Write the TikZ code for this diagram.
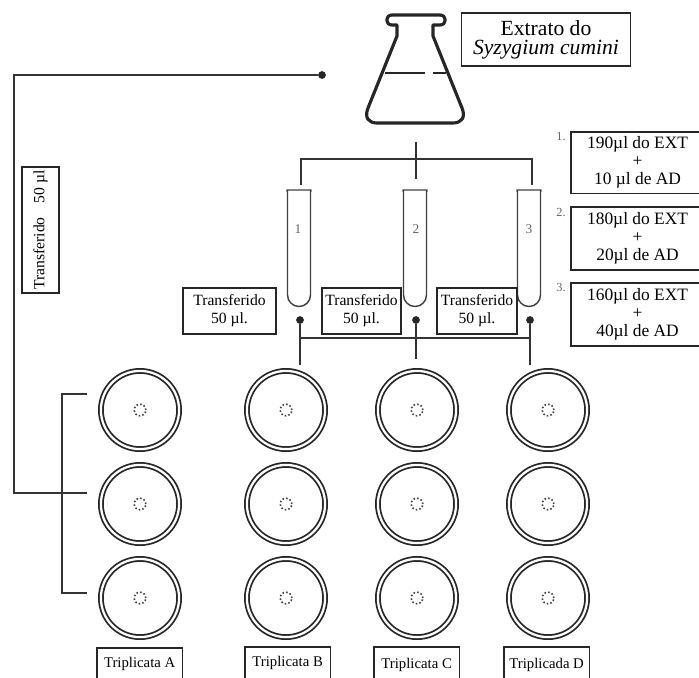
\documentclass[tikz,border=0pt]{standalone}
\usepackage{fontspec}
\setmainfont{Liberation Serif}
\usetikzlibrary{positioning,calc}

\tikzset{
  ln/.style={line width=1.1pt,black!80},
  txtbox/.style={draw=black!85,line width=0.9pt,inner sep=0,align=center,font=\fontsize{8.9}{10.2}\selectfont},
  compbox/.style={txtbox,anchor=north west,minimum width=76pt,font=\fontsize{9.9}{10.2}\selectfont},
  smallbox/.style={txtbox,anchor=north west,minimum width=48.8pt,font=\fontsize{8.4}{9}\selectfont},
  dot/.style={circle,fill=black!85,inner sep=0,minimum size=4.4pt},
  numlabel/.style={text=black!60,inner sep=0,font=\fontsize{7}{8}\selectfont},
  plate/.style={circle,draw=black!85,double=white,line width=1pt,double distance=1.3pt,inner sep=0,minimum size=44.5pt},
  hole/.style={circle,draw=black!75,dash pattern=on 0.9pt off 1.2pt,line width=0.9pt,inner sep=0,minimum size=6.6pt}
}

\newcommand{\tube}[3]{%
  \draw[line width=0.8pt,black!75] (#1-12,190) -- (#1+12,190) -- (#1+12,191) -- (#1+11.5,191)
    -- (#1+11.5,295) arc[start angle=0,end angle=180,radius=11.5] -- (#1-11.5,191) -- (#1-12,191) -- cycle;
  \node[numlabel,font=\fontsize{7.6}{9}\selectfont] at (#2,229) {#3};
}

\begin{document}
\begin{tikzpicture}[x=0.02cm,y=-0.02cm]
\useasboundingbox (0,0) rectangle (699,677);

% flask
\draw[line width=1.8pt,black!85,line join=round]
  (392,15) -- (440,15) .. controls (447,15) and (447,25) .. (440,25) -- (433,25) -- (433,36)
  -- (462,108) .. controls (466,118) and (461,123) .. (453,123) -- (377,123)
  .. controls (369,123) and (364,118) .. (368,108) -- (397,36) -- (397,25) -- (392,25)
  .. controls (385,25) and (385,15) .. (392,15) -- cycle;
\draw[line width=1.4pt,black!85] (385,73) -- (425,73) (433,73) -- (446,73);

\node[txtbox,minimum width=96.4pt,minimum height=30pt,font=\fontsize{12.3}{11}\selectfont] (extrato) at (546,39.5)
  {Extrato do\\\textit{Syzygium cumini}};

% tubes
\tube{299}{298}{1}
\tube{415}{416}{2}
\tube{529}{529}{3}

\coordinate (splittop) at (416,142);
\coordinate (splitbot) at (416,179);
\coordinate (brleft) at (301,185);
\coordinate (brright) at (532,185);
\draw[ln] (brleft) -- (301,159) -- (532,159) -- (brright);
\draw[ln] (splittop) -- (splitbot);

% composition boxes
\node[compbox,minimum height=35pt] (comp1) at (570,131) {190µl do EXT\\+\\10 µl de AD};
\node[compbox,minimum height=36pt] (comp2) at (570,206) {180µl do EXT\\+\\20µl de AD};
\node[compbox,minimum height=36pt] (comp3) at (570,282) {160µl do EXT\\+\\40µl de AD};
\node[numlabel] (num1) at (561,137) {1.};
\node[numlabel] (num2) at (561,213) {2.};
\node[numlabel] (num3) at (561,288) {3.};

% transfer boxes
\node[txtbox,minimum width=52.7pt,minimum height=26pt] (trans1) at (229.5,311) {Transferido\\50 µl.};
\node[txtbox,minimum width=44.8pt,minimum height=26pt] (trans2) at (361.5,311) {Transferido\\50 µl.};
\node[txtbox,minimum width=45.4pt,minimum height=26pt] (trans3) at (477,311) {Transferido\\50 µl.};

\node[dot] (dot1) at (300,320) {};
\node[dot] (dot2) at (416,320) {};
\node[dot] (dot3) at (530,320) {};
\coordinate (down1) at (300,365);
\coordinate (down2) at (416,359);
\coordinate (down3) at (530,365);
\draw[ln] (dot1) -- (down1);
\draw[ln] (dot2) -- (down2);
\draw[ln] (dot3) -- (down3);
\draw[ln] (300,338) -- (530,338);

% plates
\foreach \col/\xx in {a/140,b/286,c/417,d/548}{
  \foreach \row/\yy in {1/410,2/504,3/598}{
    \node[plate] (plate\col\row) at (\xx,\yy) {};
    \node[hole] (hole\col\row) at (\xx,\yy) {};
  }
}

% long transfer line
\node[dot] (flaskdot) at (322,75) {};
\coordinate (corner) at (14,75);
\coordinate (mid) at (87,493);
\draw[ln] (flaskdot) -- (corner) |- (mid);
\coordinate (brtop) at (87,394);
\coordinate (brbot) at (87,593);
\draw[ln] (brtop) -- (62,394) -- (62,593) -- (brbot);

\node[txtbox,rotate=90,minimum width=71.4pt,minimum height=21pt] (transv) at (40.5,230) {\raisebox{-1.4pt}{Transferido\hspace{0.9em}50 µl}};

% triplicate labels
\node[smallbox,minimum height=18.2pt] (tripa) at (96,647) {Triplicata A};
\node[smallbox,minimum height=18.2pt] (tripb) at (244,646) {Triplicata B};
\node[smallbox,minimum height=20.4pt] (tripc) at (373,646) {Triplicata C};
\node[smallbox,minimum height=20.4pt] (tripd) at (503,646) {Triplicada D};
\end{tikzpicture}
\end{document}
